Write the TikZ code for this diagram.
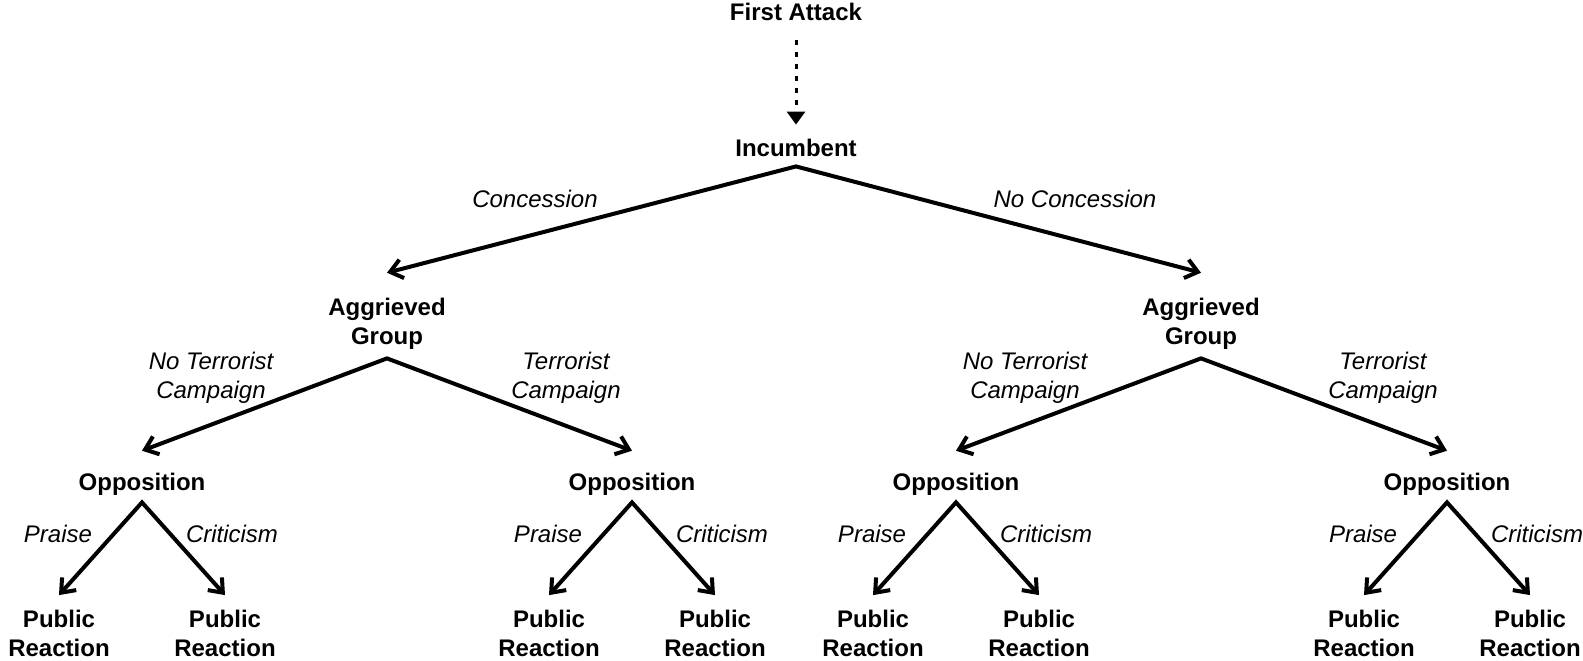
\documentclass[tikz,border=0pt]{standalone}
\usepackage{fontspec}
\setmainfont{Liberation Sans}
\usetikzlibrary{arrows.meta}
\begin{document}
\begin{tikzpicture}[x=0.5pt,y=-0.5pt,
  player/.style={font=\bfseries\fontsize{12}{14.5}\selectfont, align=center, inner sep=0pt},
  act/.style={font=\itshape\fontsize{12}{14.5}\selectfont, align=center, inner sep=0pt},
  barb/.tip={Straight Barb[length=6pt,width=9.5pt]},
  fork/.style={line width=2pt, line join=miter, barb-barb},
  move/.style={line width=2pt, -barb},
  dotmove/.style={line width=1.5pt,
    dash pattern=on 2.5pt off 3.5pt on 2.5pt off 3.5pt on 2.5pt off 3.5pt on 2.5pt off 3.5pt on 2.5pt off 3.5pt on 2.5pt off 12pt,
    -{Triangle[length=6.5pt,width=9pt]}}]
\useasboundingbox (0,0) rectangle (1583,660);

% players
\node[player] (fa)  at (796,12.3) {First Attack};
\node[player] (inc) at (796,148) {Incumbent};
\node[player] (agL) at (387,323.3) {Aggrieved\\Group};
\node[player] (agR) at (1201,323.3) {Aggrieved\\Group};
\node[player] (o1) at (142,483.8) {Opposition};
\node[player] (o2) at (632,483.8) {Opposition};
\node[player] (o3) at (956,483.8) {Opposition};
\node[player] (o4) at (1447,483.8) {Opposition};
\node[player] (p1) at (59,633) {Public\\Reaction};
\node[player] (p2) at (225,633) {Public\\Reaction};
\node[player] (p3) at (549,633) {Public\\Reaction};
\node[player] (p4) at (715,633) {Public\\Reaction};
\node[player] (p5) at (873,633) {Public\\Reaction};
\node[player] (p6) at (1039,633) {Public\\Reaction};
\node[player] (p7) at (1364,633) {Public\\Reaction};
\node[player] (p8) at (1530,633) {Public\\Reaction};

% action labels
\node[act] (lc)  at (535,199) {Concession};
\node[act] (lnc) at (1075,199) {No Concession};
\node[act] (l1) at (211,377.5) {No Terrorist\\Campaign};
\node[act] (l2) at (566,377.5) {Terrorist\\Campaign};
\node[act] (l3) at (1025,377.5) {No Terrorist\\Campaign};
\node[act] (l4) at (1383,377.5) {Terrorist\\Campaign};
\node[act] (pa1) at (58,534) {Praise};
\node[act] (cr1) at (232,534) {Criticism};
\node[act] (pa2) at (548,534) {Praise};
\node[act] (cr2) at (722,534) {Criticism};
\node[act] (pa3) at (872,534) {Praise};
\node[act] (cr3) at (1046,534) {Criticism};
\node[act] (pa4) at (1363,534) {Praise};
\node[act] (cr4) at (1537,534) {Criticism};

% connectors
\draw[dotmove] ([yshift=-9pt]fa.south) -- ([yshift=7.1pt]inc.north);
\draw[fork] ([yshift=12.25pt]agL.north) -- ([yshift=-4.6pt]inc.south) -- ([yshift=12.25pt]agR.north);
\draw[fork] ([yshift=10.75pt]o1.north) -- ([yshift=-4.5pt]agL.south) -- ([yshift=10.75pt]o2.north);
\draw[fork] ([yshift=10.75pt]o3.north) -- ([yshift=-4.5pt]agR.south) -- ([yshift=10.75pt]o4.north);
\foreach \a/\b/\c in {o1/p1/p2,o2/p3/p4,o3/p5/p6,o4/p7/p8}{
  \draw[fork] ([yshift=7.1pt]\b.north) -- ([yshift=-3.5pt]\a.south) -- ([yshift=7.1pt]\c.north);
}
\end{tikzpicture}
\end{document}
